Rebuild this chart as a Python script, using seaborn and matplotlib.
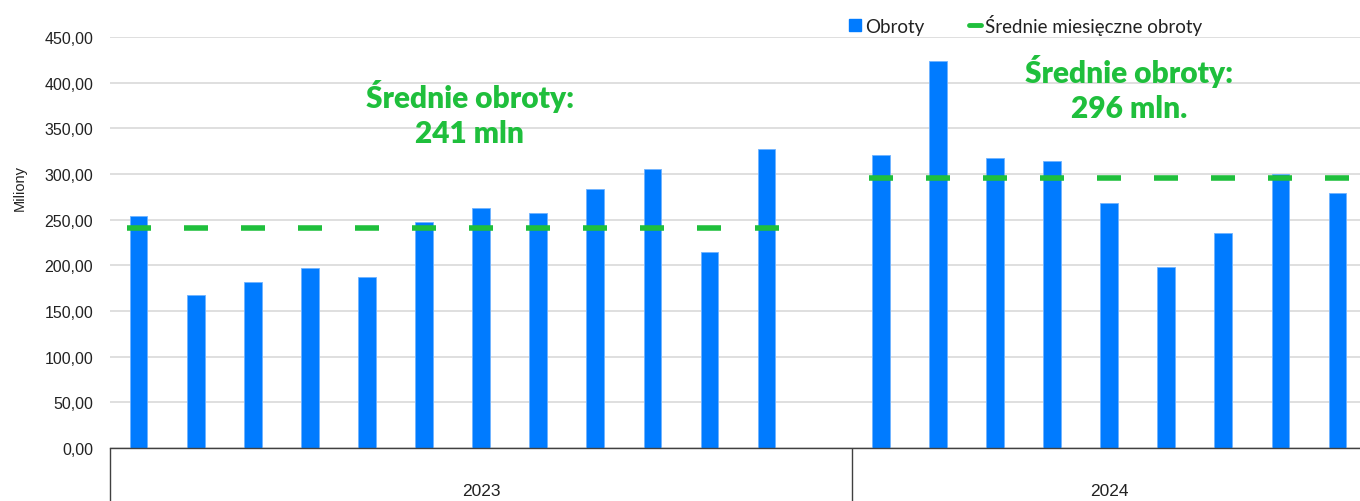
## ==========================================
## Obroty miesięczne 2023 / 2024
## ==========================================

import pandas as pd
import numpy as np
import matplotlib.pyplot as plt
import seaborn as sns
from matplotlib.patches import Patch
from matplotlib.lines import Line2D
from matplotlib.ticker import FuncFormatter, FixedLocator

## ==========================================
## Data
## ==========================================

years = ["2023", "2024"]

obroty_2023 = [254, 168, 182, 197, 187, 247, 263, 257, 284, 306, 215, 327]
obroty_2024 = [321, 424, 318, 314, 268, 198, 235, 300, 279]

srednia_2023 = 241
srednia_2024 = 296

annot_2023 = "Średnie obroty:\n241 mln"
annot_2024 = "Średnie obroty:\n296 mln."

## 2023 group has one empty slot at the end
slots_2023 = [f"2023-{m:02d}" for m in range(1, 13)] + ["2023-pad"]
slots_2024 = [f"2024-{m:02d}" for m in range(1, 10)]
order = slots_2023 + slots_2024

df = pd.DataFrame({
    "slot": order,
    "obroty": obroty_2023 + [np.nan] + obroty_2024,
    "srednia": [srednia_2023] * 12 + [np.nan] + [srednia_2024] * 9,
})

## ==========================================
## Style
## ==========================================

blue = "#007BFF"
green = "#1FBF3C"
axis_font = ["Liberation Sans", "DejaVu Sans"]

sns.set_theme(style="white")
plt.rcParams["font.family"] = ["Lato", "DejaVu Sans"]

fig = plt.figure(figsize=(13.6, 5.02), dpi=100)
ax = fig.add_axes([0.0809, 0.1056, 0.9235, 0.8187])

## ==========================================
## Plot
## ==========================================

sns.barplot(
    data=df, x="slot", y="obroty", order=order,
    color=blue, saturation=1, width=0.31,
    edgecolor="#6fb3ff", linewidth=0.6, ax=ax, zorder=2
)

sns.pointplot(
    data=df, x="slot", y="srednia", order=order,
    color=green, marker="_", linestyle="none",
    markersize=17, markeredgewidth=4, errorbar=None, ax=ax
)
for coll in ax.lines:
    coll.set_zorder(3)

## ==========================================
## Axes
## ==========================================

ax.set_ylim(0, 450)
ax.set_xlim(-0.5, len(order) - 0.5)
ax.set_yticks(np.arange(0, 451, 50))
ax.yaxis.set_major_formatter(
    FuncFormatter(lambda v, p: f"{v:.2f}".replace(".", ","))
)
ax.tick_params(axis="y", length=0, pad=12, labelsize=11.5, labelcolor="#222222")
for lab in ax.get_yticklabels():
    lab.set_fontfamily(axis_font)
ax.yaxis.grid(True, color="#d9d9d9", linewidth=1.2)
ax.set_axisbelow(True)

ax.set_ylabel("Miliony", fontsize=10.5, color="#222222", family=axis_font)
ax.yaxis.set_label_coords(-0.066, 0.635)
ax.set_xlabel("")

for side in ["top", "right", "left"]:
    ax.spines[side].set_visible(False)
ax.spines["bottom"].set_color("#404040")
ax.spines["bottom"].set_linewidth(1.0)

## group separators as long major ticks, year names as minor ticks
ax.xaxis.set_major_locator(FixedLocator([-0.5, 12.5, 21.5]))
ax.xaxis.set_minor_locator(FixedLocator([6, 17]))
ax.set_xticklabels(["", "", ""])
ax.set_xticklabels(years, minor=True, family=axis_font)
ax.tick_params(axis="x", which="major", length=39, width=1.0,
               color="#404040", direction="out", bottom=True)
ax.tick_params(axis="x", which="minor", length=0, pad=25,
               labelsize=12.5, labelcolor="#222222")

## ==========================================
## Annotations
## ==========================================

ax.text(5.8, 367, annot_2023, ha="center", va="center",
        fontsize=21.5, fontweight="heavy", color=green, linespacing=1.3)
ax.text(17.35, 394, annot_2024, ha="center", va="center",
        fontsize=21.5, fontweight="heavy", color=green, linespacing=1.3)

## ==========================================
## Legend
## ==========================================

handles = [
    Patch(facecolor=blue, edgecolor=blue),
    Line2D([0], [0], color=green, linewidth=3.5),
]
fig.legend(
    handles, ["Obroty", "Średnie miesięczne obroty"],
    loc="center", bbox_to_anchor=(0.754, 0.950), ncol=2,
    frameon=False, fontsize=13.5, handlelength=0.65, handleheight=0.65,
    handletextpad=0.2, columnspacing=2.4, labelcolor="#222222"
)

plt.savefig("out.png", dpi=100)
plt.close()
